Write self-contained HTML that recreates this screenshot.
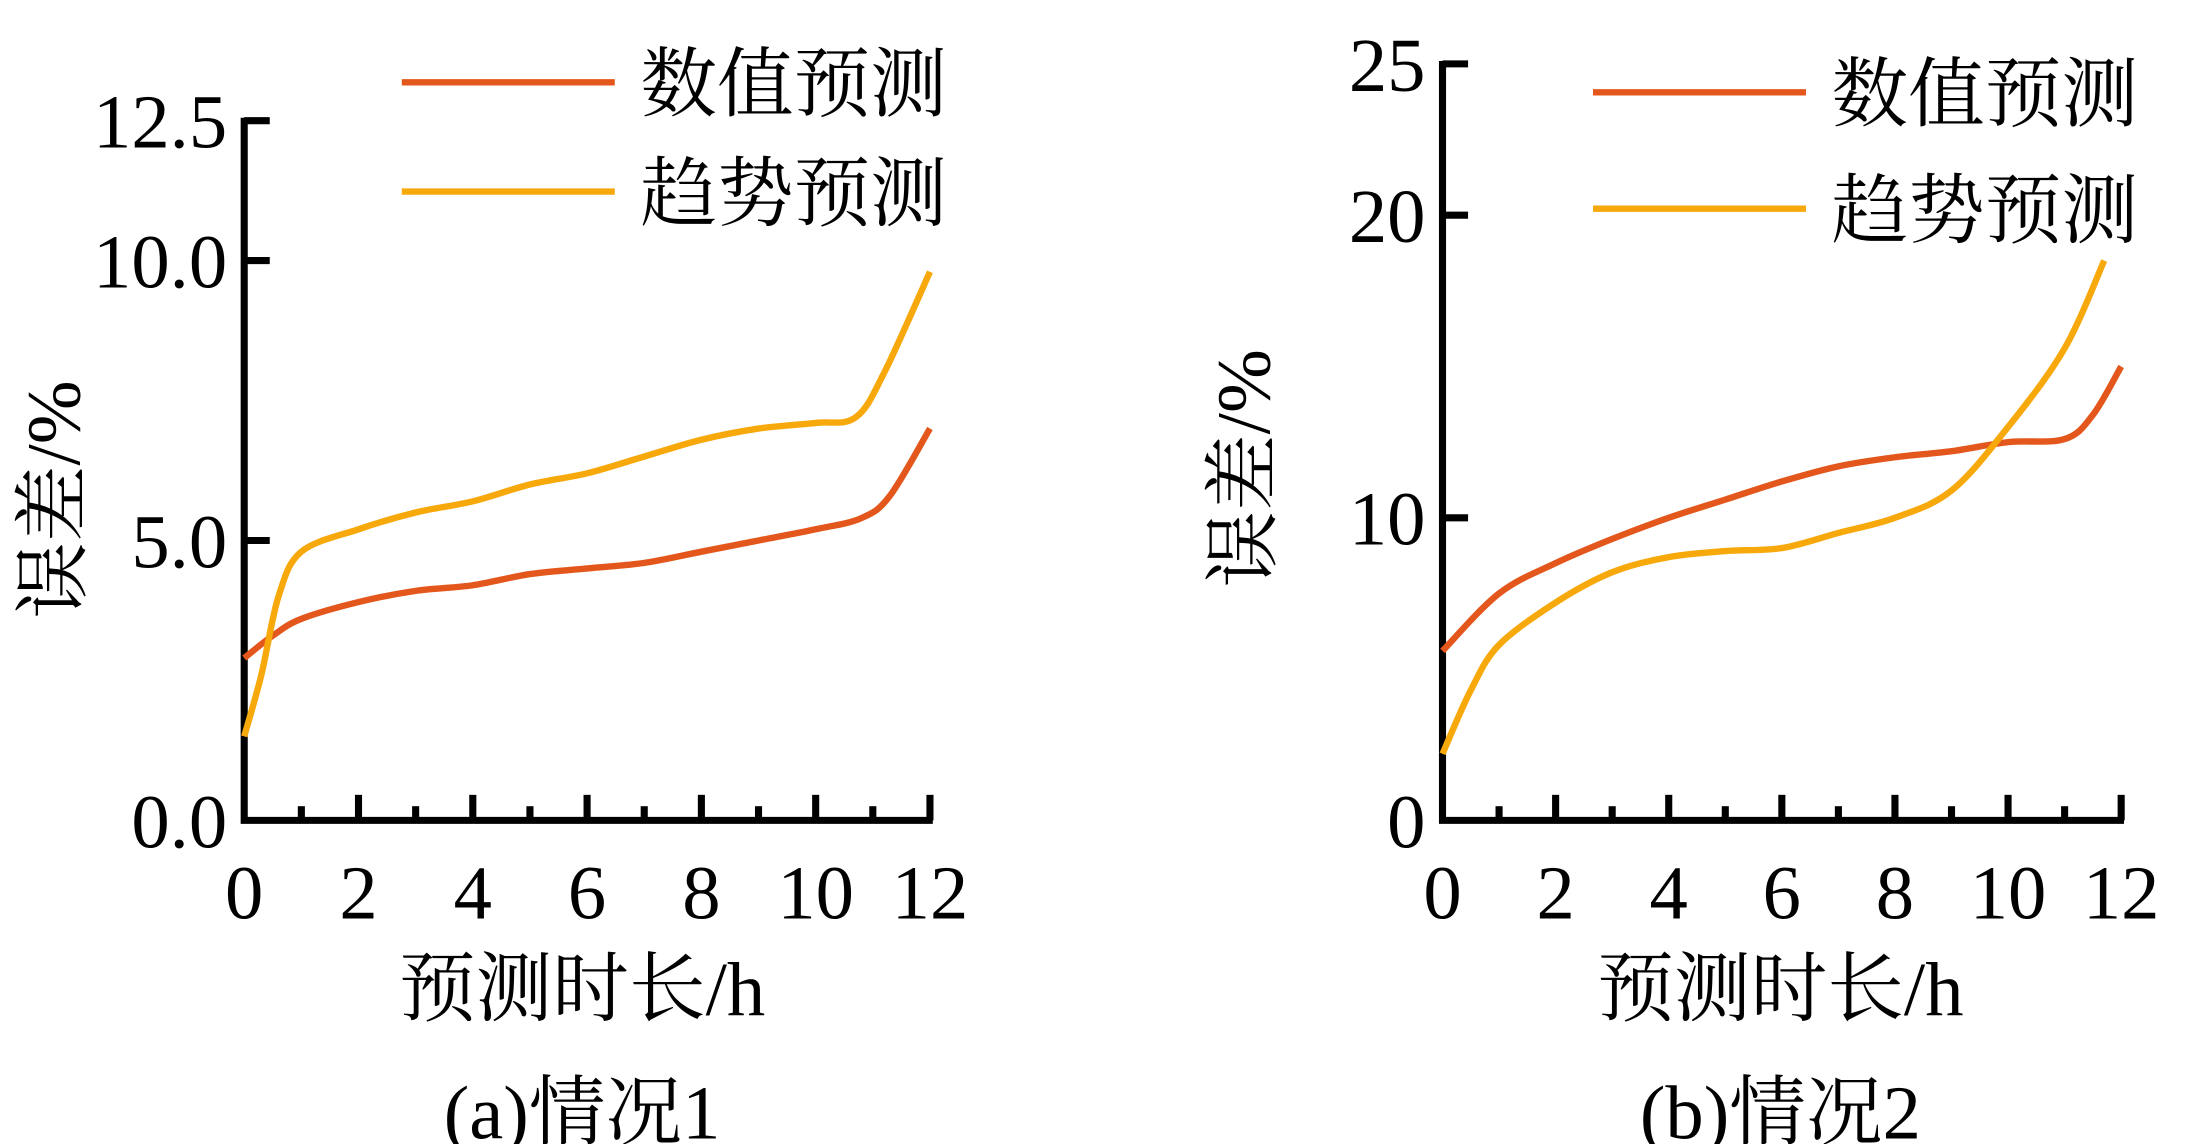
<!DOCTYPE html>
<html><head><meta charset="utf-8"><style>
html,body{margin:0;padding:0;background:#fff;}
svg{display:block;}
text{font-family:"Liberation Serif","Noto Serif CJK SC",serif;fill:#000;}
</style></head><body>
<svg id="chart" width="2195" height="1144" viewBox="0 0 1546 806" preserveAspectRatio="none" xmlns="http://www.w3.org/2000/svg"></svg>
<script>
const xTicks=[0,2,4,6,8,10,12];
const aYTicks=[0,5,10,12.5];
const aYLabels=["0.0","5.0","10.0","12.5"];
const bYTicks=[0,10,20,25];
const bYLabels=["0","10","20","25"];
const aNumX=[0,0.5,1,2,3,4,5,6,7,8,9,10,10.8,11.3,12];
const aNumY=[2.9,3.3,3.6,3.9,4.1,4.2,4.4,4.5,4.6,4.8,5.0,5.2,5.4,5.8,7.0];
const aTrX=[0,0.3,0.6,1,2,3,4,5,6,7,8,9,10,10.7,11.2,12];
const aTrY=[1.5,2.6,4.0,4.8,5.2,5.5,5.7,6.0,6.2,6.5,6.8,7.0,7.1,7.2,8.0,9.8];
const bNumX=[0,1,2,3,4,5,6,7,8,9,10,11,11.5,12];
const bNumY=[5.6,7.5,8.5,9.3,10,10.6,11.2,11.7,12,12.2,12.5,12.6,13.4,15];
const bTrX=[0,0.5,1,2,3,4,5,6,7,8,9,10,11,11.7];
const bTrY=[2.2,4.3,5.8,7.2,8.2,8.7,8.9,9.0,9.5,10,10.9,13,15.6,18.5];
const NS="http://www.w3.org/2000/svg";
const svg=document.getElementById('chart');
function mk(tag,attrs,parent){const e=document.createElementNS(NS,tag);for(const k in attrs)e.setAttribute(k,attrs[k]);(parent||svg).appendChild(e);return e;}
function smooth(pts){let d=`M${pts[0][0]},${pts[0][1]}`;for(let i=0;i<pts.length-1;i++){const p0=pts[i-1]||pts[i],p1=pts[i],p2=pts[i+1],p3=pts[i+2]||p2;
d+=` C${p1[0]+(p2[0]-p0[0])/6},${p1[1]+(p2[1]-p0[1])/6} ${p2[0]-(p3[0]-p1[0])/6},${p2[1]-(p3[1]-p1[1])/6} ${p2[0]},${p2[1]}`;}return d;}
function panel(cfg){
 const g=mk('g',{});
 
 
 const sx=v=>cfg.x0+(cfg.x1-cfg.x0)*v/12;
 const sy=v=>cfg.y0-(cfg.y0-cfg.yTop)*v/cfg.yMax;
 const ax=mk('path',{d:`M${cfg.x0},${sy(cfg.yMax)-2} V${cfg.y0} H${cfg.x1+2}`,stroke:'#000','stroke-width':5,fill:'none'},g);
 
 
 for(let i=1;i<=12;i++){const t=mk('line',{x1:sx(i),x2:sx(i),y1:cfg.y0,y2:cfg.y0-(i%2?10:18),stroke:'#000','stroke-width':5},g);
  
  }
 xTicks.forEach(v=>{const t=mk('text',{x:sx(v),y:647,'font-size':54,'text-anchor':'middle'},g);t.textContent=v;
  
  });
 cfg.yt.forEach((v,i)=>{if(v>0){const t=mk('line',{x1:cfg.x0,x2:cfg.x0+18,y1:sy(v),y2:sy(v),stroke:'#000','stroke-width':5},g);
  
  }
  const l=mk('text',{x:cfg.x0-12,y:sy(v)+19,'font-size':54,'text-anchor':'end'},g);l.textContent=cfg.yl[i];
  
  });
 const series=[[cfg.nx,cfg.ny,'#e4571c','numeric-series'],[cfg.tx,cfg.ty,'#f7a80a','trend-series']];
 series.forEach(s=>{const p=mk('path',{d:smooth(s[0].map((x,i)=>[sx(x),sy(s[1][i])])),stroke:s[2],'stroke-width':4.5,fill:'none','stroke-linejoin':'round'},g);
  
  });
 [[cfg.ly1,'#e4571c','数值预测'],[cfg.ly2,'#f7a80a','趋势预测']].forEach(L=>{
  const ln=mk('line',{x1:cfg.lx,x2:cfg.lx+150,y1:L[0],y2:L[0],stroke:L[1],'stroke-width':4.5},g);
  
  
  const t=mk('text',{x:cfg.lx+168,y:L[0]+20,'font-size':54},g);t.textContent=L[2];
  
  });
 const yt=mk('text',{x:0,y:0,'font-size':54,'text-anchor':'middle',transform:`translate(${cfg.ytx},${cfg.yty}) rotate(-90)`},g);yt.textContent='误差/%';
 
 
 const xt=mk('text',{x:cfg.cx,y:715,'font-size':54,'text-anchor':'middle'},g);xt.textContent='预测时长/h';
 
 
 const ct=mk('text',{x:cfg.cx,y:802,'font-size':54,'text-anchor':'middle'},g);ct.textContent=cfg.cap;
 
 
}
panel({name:'panel-a',x0:172,x1:655,y0:578,yTop:85,yMax:12.5,yt:aYTicks,yl:aYLabels,nx:aNumX,ny:aNumY,tx:aTrX,ty:aTrY,lx:283,ly1:58,ly2:135,ytx:56,yty:352,cx:410,cap:'(a)情况1'});
panel({name:'panel-b',x0:1016,x1:1494,y0:578,yTop:45,yMax:25,yt:bYTicks,yl:bYLabels,nx:bNumX,ny:bNumY,tx:bTrX,ty:bTrY,lx:1122,ly1:65,ly2:147,ytx:894,yty:330,cx:1254,cap:'(b)情况2'});
</script>
</body></html>
